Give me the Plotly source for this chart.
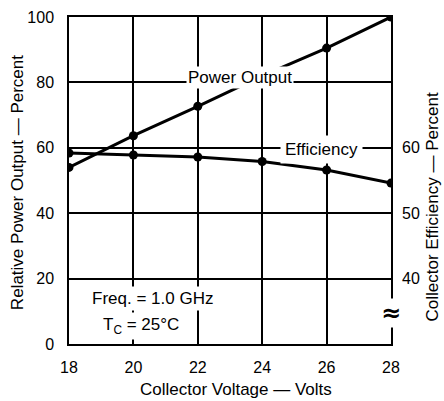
import plotly.graph_objects as go

voltage = [18, 20, 22, 24, 26, 28]
power_output = [54.0, 63.7, 72.7, 82.0, 90.5, 100.0]
efficiency = [59.2, 58.9, 58.6, 57.9, 56.6, 54.6]

x_ticks = [18, 20, 22, 24, 26, 28]
y_ticks = [0, 20, 40, 60, 80, 100]
y2_ticks = [40, 50, 60]

FONT = "Liberation Sans, Arial, Helvetica, sans-serif"

fig = go.Figure()
fig.add_trace(go.Scatter(
    x=voltage, y=power_output, mode="lines+markers",
    line=dict(color="black", width=3),
    marker=dict(color="black", size=9),
    showlegend=False, yaxis="y"))
fig.add_trace(go.Scatter(
    x=voltage, y=efficiency, mode="lines+markers",
    line=dict(color="black", width=3),
    marker=dict(color="black", size=9),
    showlegend=False, yaxis="y2"))

axis_common = dict(
    showline=True, linecolor="black", linewidth=1.5,
    ticks="", zeroline=False, automargin=False,
    tickfont=dict(family=FONT, size=16, color="black"),
)

fig.update_layout(
    width=444, height=401,
    margin=dict(l=69, r=53, t=17, b=57, autoexpand=False),
    paper_bgcolor="white", plot_bgcolor="white",
    font=dict(family=FONT, color="black"),
    xaxis=dict(range=[18, 28], tickvals=x_ticks, showgrid=True,
               gridcolor="black", gridwidth=1.5, mirror=True,
               ticklabelstandoff=8, **axis_common),
    yaxis=dict(range=[0, 100], tickvals=y_ticks, showgrid=True,
               gridcolor="black", gridwidth=1.5, mirror=True,
               ticklabelstandoff=10, **axis_common),
    yaxis2=dict(range=[30, 80], tickvals=y2_ticks, overlaying="y",
                side="right", showgrid=False, showline=False,
                ticks="", zeroline=False, ticklabelstandoff=10, automargin=False,
                tickfont=dict(family=FONT, size=16, color="black")),
)

ann_font = dict(family=FONT, size=17, color="black")
fig.add_annotation(x=23.3, y=81.6, xref="x", yref="y", text="Power Output",
                   showarrow=False, bgcolor="white", font=ann_font, borderpad=1)
fig.add_annotation(x=25.83, y=59.6, xref="x", yref="y", text="Efficiency",
                   showarrow=False, bgcolor="white", font=ann_font, borderpad=4)
fig.add_annotation(x=20.6, y=13.8, xref="x", yref="y", text="Freq. = 1.0 GHz",
                   showarrow=False, bgcolor="white", font=ann_font, borderpad=2)
fig.add_annotation(x=20.25, y=5.5, xref="x", yref="y",
                   text="T<sub>C</sub> = 25°C",
                   showarrow=False, bgcolor="white", font=ann_font, borderpad=2)
fig.add_annotation(x=28, y=9.5, xref="x", yref="y", text="<b>≈</b>",
                   showarrow=False, bgcolor="white",
                   font=dict(family="DejaVu Sans, sans-serif", size=24, color="black"),
                   borderpad=0)

# axis titles
fig.add_annotation(x=-0.1615, y=0.495, xref="paper", yref="paper",
                   xanchor="center", yanchor="middle",
                   text="Relative Power Output — Percent", textangle=-90,
                   showarrow=False, font=ann_font)
fig.add_annotation(x=1.13, y=0.42, xref="paper", yref="paper",
                   xanchor="center", yanchor="middle",
                   text="Collector Efficiency — Percent", textangle=-90,
                   showarrow=False, font=ann_font)
fig.add_annotation(x=0.52, y=-0.14, xref="paper", yref="paper",
                   xanchor="center", yanchor="middle",
                   text="Collector Voltage — Volts",
                   showarrow=False, font=ann_font)

fig.write_html("out.html", config={"displayModeBar": False},
               post_script="document.body.style.margin='0';")
